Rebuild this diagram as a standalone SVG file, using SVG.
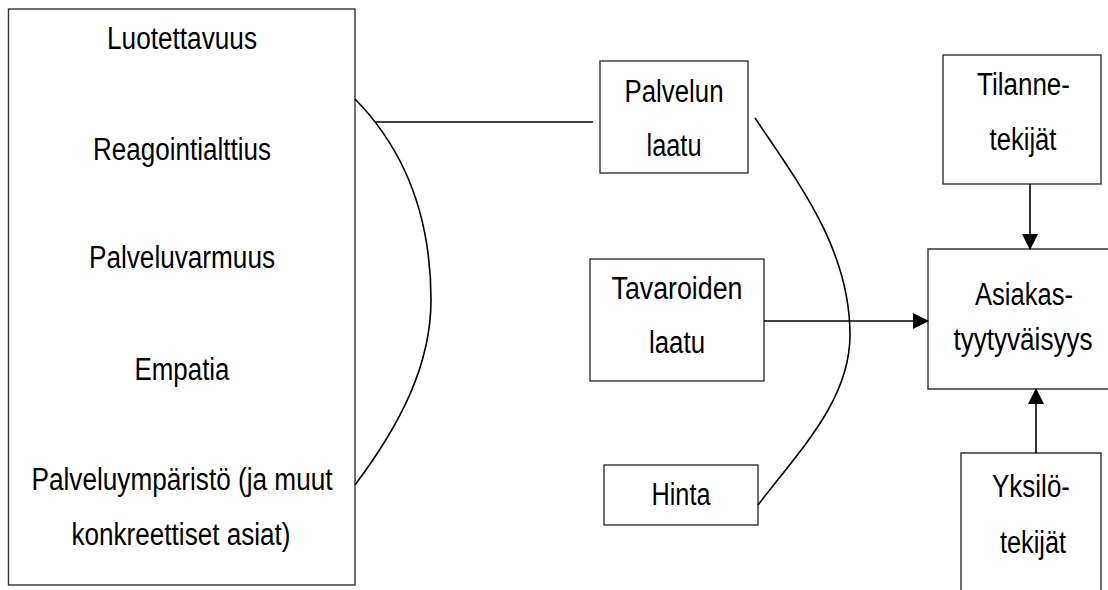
<svg xmlns="http://www.w3.org/2000/svg" width="1108" height="590" viewBox="0 0 1108 590">
  <defs>
    <style>
      .box { fill: #fff; stroke: #333; stroke-width: 1.4; }
      .lbl { font-family: "Liberation Sans", Arial, sans-serif; font-size: 31px; fill: #000; text-anchor: middle; }
      .wire { fill: none; stroke: #000; stroke-width: 1.6; }
    </style>
    <marker id="arrow" viewBox="0 0 16 16" refX="15" refY="8" markerWidth="16" markerHeight="16" markerUnits="userSpaceOnUse" orient="auto">
      <path d="M0,0 L16,8 L0,16 Z" fill="#000"/>
    </marker>
  </defs>
  <rect width="1108" height="590" fill="#fff"/>

  <!-- service quality dimensions -->
  <g id="dimensions">
    <rect class="box" x="8.5" y="9" width="346.5" height="576"/>
    <text class="lbl" x="182" y="49" textLength="150" lengthAdjust="spacingAndGlyphs">Luotettavuus</text>
    <text class="lbl" x="182" y="160" textLength="178" lengthAdjust="spacingAndGlyphs">Reagointialttius</text>
    <text class="lbl" x="182" y="268" textLength="186" lengthAdjust="spacingAndGlyphs">Palveluvarmuus</text>
    <text class="lbl" x="182" y="380" textLength="95" lengthAdjust="spacingAndGlyphs">Empatia</text>
    <text class="lbl" x="182" y="490" textLength="301" lengthAdjust="spacingAndGlyphs">Palveluympäristö (ja muut</text>
    <text class="lbl" x="181" y="545" textLength="219" lengthAdjust="spacingAndGlyphs">konkreettiset asiat)</text>
  </g>

  <g id="palvelun-laatu">
    <rect class="box" x="600" y="61" width="148" height="112"/>
    <text class="lbl" x="674" y="102" textLength="99" lengthAdjust="spacingAndGlyphs">Palvelun</text>
    <text class="lbl" x="674" y="156" textLength="55" lengthAdjust="spacingAndGlyphs">laatu</text>
  </g>

  <g id="tavaroiden-laatu">
    <rect class="box" x="590" y="259" width="174" height="122"/>
    <text class="lbl" x="677" y="299" textLength="131" lengthAdjust="spacingAndGlyphs">Tavaroiden</text>
    <text class="lbl" x="677" y="353" textLength="56" lengthAdjust="spacingAndGlyphs">laatu</text>
  </g>

  <g id="hinta">
    <rect class="box" x="604" y="465" width="154" height="60"/>
    <text class="lbl" x="681" y="505" textLength="59" lengthAdjust="spacingAndGlyphs">Hinta</text>
  </g>

  <g id="tilannetekijat">
    <rect class="box" x="943" y="55" width="158" height="129"/>
    <text class="lbl" x="1023.5" y="95" textLength="93" lengthAdjust="spacingAndGlyphs">Tilanne-</text>
    <text class="lbl" x="1023" y="150" textLength="67" lengthAdjust="spacingAndGlyphs">tekijät</text>
  </g>

  <!-- the box runs past the right edge of the page, so only three sides are drawn -->
  <g id="asiakastyytyvaisyys">
    <path class="box" d="M1108,249 H928 V389 H1108"/>
    <text class="lbl" x="1024" y="305" textLength="98" lengthAdjust="spacingAndGlyphs">Asiakas-</text>
    <text class="lbl" x="1023" y="350" textLength="139" lengthAdjust="spacingAndGlyphs">tyytyväisyys</text>
  </g>

  <!-- the box runs past the bottom edge of the page -->
  <g id="yksilotekijat">
    <path class="box" d="M961,590 V453 H1101 V590"/>
    <text class="lbl" x="1031" y="497" textLength="78" lengthAdjust="spacingAndGlyphs">Yksilö-</text>
    <text class="lbl" x="1033" y="553" textLength="66" lengthAdjust="spacingAndGlyphs">tekijät</text>
  </g>

  <g id="connectors">
    <!-- bracket grouping the five dimensions -->
    <path class="wire" d="M355,99 C405,150 431,215 431,300 C431,365 400,425 355,485"/>
    <line class="wire" x1="375" y1="122" x2="593" y2="122"/>
    <!-- bracket grouping quality, goods and price -->
    <path class="wire" d="M755,118 C800,185 850,250 850,335 C850,400 800,450 758,505"/>
    <line class="wire" x1="764" y1="321" x2="928" y2="321" marker-end="url(#arrow)"/>
    <line class="wire" x1="1030" y1="184" x2="1030" y2="249" marker-end="url(#arrow)"/>
    <line class="wire" x1="1036" y1="453" x2="1036" y2="389" marker-end="url(#arrow)"/>
  </g>
</svg>
